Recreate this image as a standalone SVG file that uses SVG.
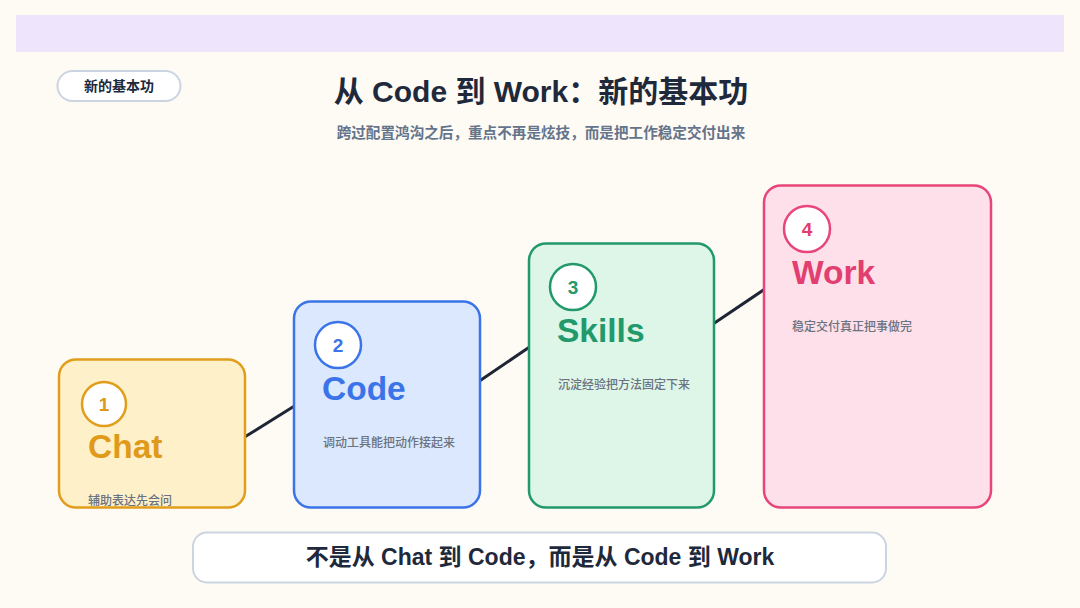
<svg xmlns="http://www.w3.org/2000/svg" width="1080" height="608" viewBox="0 0 1080 608">
<style>
text{font-family:"Liberation Sans","Noto Sans CJK SC",sans-serif}
.cn{font-family:"Noto Sans CJK SC","Liberation Sans",sans-serif}
.card{stroke-width:2.5}
.num{font-size:19px;font-weight:bold;text-anchor:middle}
.big{font-size:33.5px;font-weight:bold}
.desc{font-size:12px;fill:#6B7280;font-weight:500}
.conn{stroke:#1E2535;stroke-width:3;stroke-linecap:round}
</style>
<rect width="1080" height="608" fill="#FEFAF4"/>
<rect x="16" y="15" width="1048" height="37" fill="#EEE5FD"/>
<g id="tag">
<rect x="57.500" y="71" width="123" height="30" rx="15" fill="#FFFFFF" stroke="#CBD5E1" stroke-width="2"/>
<text x="119" y="91" class="cn" font-size="14" font-weight="bold" fill="#1E293B" text-anchor="middle">新的基本功</text>
</g>
<text x="541" y="102" font-size="30" font-weight="bold" fill="#1E293B" text-anchor="middle">从 Code 到 Work：新的基本功</text>
<text x="541" y="138" class="cn" font-size="14.6" font-weight="bold" fill="#64748B" text-anchor="middle">跨过配置鸿沟之后，重点不再是炫技，而是把工作稳定交付出来</text>
<g id="connectors">
<line class="conn" x1="243" y1="438" x2="296" y2="405"/>
<line class="conn" x1="478" y1="382" x2="531" y2="346"/>
<line class="conn" x1="713" y1="324" x2="765" y2="289"/>
</g>
<g id="chat">
<rect class="card" x="59" y="359.500" width="186" height="148" rx="17" fill="#FEF0C8" stroke="#E09E1C"/>
<circle cx="104" cy="404" r="22" fill="#FFFFFF" stroke="#E09E1C" stroke-width="2.5"/>
<text class="num" x="104" y="411" fill="#E09A1A">1</text>
<text class="big" x="88" y="458" fill="#E09A1A">Chat</text>
<text class="desc cn" x="88" y="505">辅助表达先会问</text>
</g>
<g id="code">
<rect class="card" x="294" y="301.500" width="186" height="206" rx="17" fill="#DBE8FD" stroke="#3B74E8"/>
<circle cx="338" cy="345" r="23" fill="#FFFFFF" stroke="#3B74E8" stroke-width="2.5"/>
<text class="num" x="338" y="352" fill="#3B74E8">2</text>
<text class="big" x="322" y="400" fill="#3B74E8">Code</text>
<text class="desc cn" x="323" y="447">调动工具能把动作接起来</text>
</g>
<g id="skills">
<rect class="card" x="529" y="243.500" width="185" height="264" rx="17" fill="#DDF6E8" stroke="#22996A"/>
<circle cx="573" cy="287" r="23" fill="#FFFFFF" stroke="#22996A" stroke-width="2.5"/>
<text class="num" x="573" y="294" fill="#22996A">3</text>
<text class="big" x="557" y="342" fill="#22996A">Skills</text>
<text class="desc cn" x="558" y="389">沉淀经验把方法固定下来</text>
</g>
<g id="work">
<rect class="card" x="764" y="185.500" width="227" height="322" rx="17" fill="#FDE0E9" stroke="#E8457A"/>
<circle cx="807" cy="229" r="23" fill="#FFFFFF" stroke="#E8457A" stroke-width="2.5"/>
<text class="num" x="807" y="236" fill="#E23E70">4</text>
<text class="big" x="792" y="284" fill="#E23E70">Work</text>
<text class="desc cn" x="792" y="331">稳定交付真正把事做完</text>
</g>
<g id="banner">
<rect x="193" y="532.500" width="693" height="50" rx="14" fill="#FFFFFF" stroke="#CBD5E1" stroke-width="2"/>
<text x="540" y="565" font-size="23" font-weight="bold" fill="#1E293B" text-anchor="middle">不是从 Chat 到 Code，而是从 Code 到 Work</text>
</g>
</svg>
